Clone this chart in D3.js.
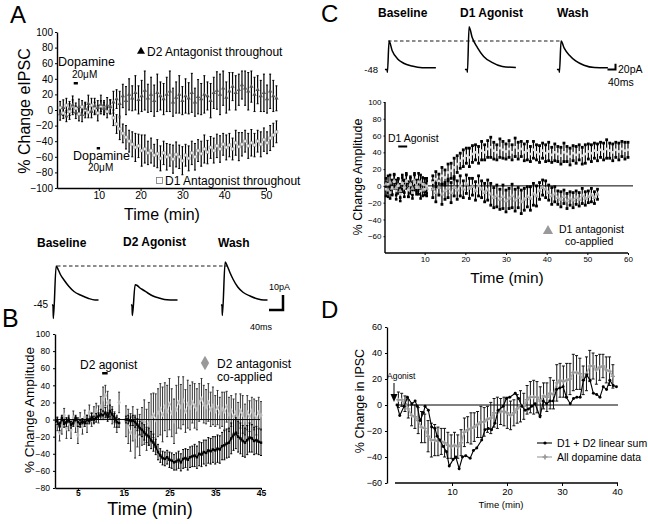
<!DOCTYPE html>
<html><head><meta charset="utf-8">
<script src="https://cdn.jsdelivr.net/npm/d3@7"></script>
<style>
body{margin:0;background:#fff;}
svg{display:block;}
</style></head><body>
<svg id="fig" width="648" height="524"></svg>
<script>
// ================= DATA =================
// Panel A  (% change eIPSC, sampled every 0.75 min)
const aD2Antag = [-5,3,-8,2,6,-3,4,-6,2,8,-2,5,3,7,2,6,4,
  10,14,8,18,12,20,15,22,13,18,
  25,15,20,12,22,18,14,20,24,10,16,20,12,18,15,22,10,17,14,20,18,12,22,25,20,28,16,24,30,22,26,32,28,24,30,20,26,18,22,14,24,18,15];
const aD2AntagErr = [8,10,7,9,12,8,10,9,7,11,8,10,9,12,8,10,9,
  14,12,16,15,18,20,16,22,18,20,
  25,18,22,20,24,18,20,22,26,18,20,24,18,22,20,25,18,22,20,24,18,22,20,24,26,22,20,24,18,22,20,18,22,24,20,22,18,20,24,18,22,20,16];
const aD1Antag = [3,-4,6,-2,5,2,-5,4,0,-3,6,2,-4,5,3,-2,4,
  -10,-18,-24,-30,-35,-40,-44,-48,-46,-52,
  -50,-55,-52,-58,-56,-62,-55,-60,-58,-63,-57,-60,-65,-58,-62,-55,-60,-52,-56,-50,-54,-48,-52,-46,-50,-44,-48,-45,-50,-42,-47,-44,-40,-46,-42,-45,-40,-44,-38,-42,-36,-32,-28];
const aD1AntagErr = [8,7,9,10,8,7,9,8,10,7,9,8,10,7,9,8,9,
  10,12,14,12,15,14,16,18,15,20,
  18,15,16,14,18,16,15,17,14,18,16,15,18,14,16,15,17,14,16,18,15,14,16,15,17,14,16,15,14,16,18,15,14,16,17,15,14,16,15,14,16,15,14];
const aYTicks = [-100,-80,-60,-40,-20,0,20,40,60,80,100];
const aXTicks = [10,20,30,40,50];

// Panel B (% change amplitude, every 0.5 min; gap 14-15.5 min)
const bAgonist1 = [-2,-8,2,-5,-3,0,-6,-4,2,-3,-5,-2,-4,0,-2,3,0,2,4,6,5,8,3,10,6,2,-3,-4];
const bAgonist1Err = [4,5,3,4,5,3,4,4,3,5,4,3,4,5,3,4,4,5,4,6,5,6,5,7,6,5,6,5];
const bAntag1 = [-5,-15,-8,5,-10,-4,-12,2,-6,-18,0,-8,3,-5,8,0,5,10,6,15,24,28,20,12,5,0,-5,20];
const bAntag1Err = [8,10,9,8,12,9,10,8,9,10,8,9,8,10,9,8,10,9,10,12,14,12,13,11,10,9,10,12];
const bAgonist2 = [0,0,-2,-1,-3,-6,-10,-12,-15,-18,-20,-24,-27,-32,-38,-42,-45,-46,-44,-47,
  -48,-50,-49,-47,-50,-46,-45,-47,-44,-43,-42,-44,-40,-41,-38,-39,-36,-37,-35,-36,
  -34,-35,-31,-30,-28,-27,-22,-18,-16,-20,-22,-25,-27,-24,-21,-22,-25,-24,-26,-27];
const bAgonist2Err = [4,5,5,6,6,7,8,8,9,9,10,10,10,9,9,8,8,8,8,9,
  9,9,10,10,10,11,11,12,12,12,13,13,14,14,14,15,15,15,15,16,
  16,16,16,17,17,17,18,18,18,18,18,18,17,17,17,16,16,16,15,15];
const bAntag2 = [-2,-8,-15,-5,-20,-10,-18,-8,-3,-12,-5,2,5,0,8,12,6,15,10,18,
  8,-2,12,20,15,22,10,18,14,20,16,12,20,24,18,15,20,12,16,10,
  14,8,12,10,15,6,10,4,8,2,10,6,0,8,4,10,6,2,8,5];
const bAntag2Err = [18,20,22,20,25,22,24,22,26,24,25,28,26,30,28,30,32,28,30,30,
  28,26,28,30,26,28,25,28,26,24,26,24,22,24,22,20,22,20,22,18,
  20,18,20,22,18,20,18,20,22,18,20,22,18,20,18,16,18,20,18,16];
const bYTicks = [-80,-60,-40,-20,0,20,40,60,80,100];
const bXTicks = [5,15,25,35,45];

// Panel C (baseline every 0.5 min, then every 0.75 min from 12 min)
const cAgonist1 = [-4,2,-8,-2,5,-6,0,-10,3,-3,6,-5,1,-8,4,-2,5,-6,2,-4,0];
const cAgonist1Err = [8,10,7,9,8,10,9,8,7,10,9,8,10,7,9,8,10,9,8,7,9];
const cAntag1 = [2,-5,4,-3,6,-2,1,-6,3,-1,5,-4,2,-3,6,0,-2,4,-5,1,-3];
const cAntag1Err = [7,8,9,7,8,9,7,8,10,7,8,9,7,8,9,7,8,9,7,8,9];
const cAgonist2 = [4,8,6,12,10,16,18,22,26,30,33,36,34,38,40,37,42,40,44,46,
  42,40,45,43,41,44,40,46,42,44,40,42,38,43,40,38,42,39,41,37,
  40,38,36,40,38,35,39,37,40,36,38,41,39,42,40,43,41,44,42,40,43,41,44,42,43];
const cAgonist2Err = [8,9,8,10,9,10,9,11,10,9,10,9,11,10,9,10,11,9,10,12,
  10,9,11,10,9,10,9,11,10,9,10,11,9,10,9,10,9,10,11,9,
  10,9,10,11,9,10,9,10,9,10,11,9,10,9,10,9,10,11,9,10,9,10,9,10,9];
const cAntag2 = [-4,-8,-2,-10,-6,-3,-8,-2,-5,0,-4,2,-3,-1,-6,0,-4,-8,-5,-10,
  -14,-12,-16,-13,-18,-15,-12,-17,-14,-19,-16,-13,-15,-10,-12,-6,-2,-4,-8,-12,
  -10,-14,-16,-13,-18,-15,-17,-14,-16,-12,-15,-13,-11,-14,-10];
const cAntag2Err = [10,11,9,12,10,11,12,10,11,12,10,11,12,10,11,12,10,11,12,13,
  12,13,12,14,13,12,14,13,12,14,13,12,14,13,12,10,9,10,9,10,
  9,8,9,8,9,8,9,8,8,9,8,7,8,7,6];
const cYTicks = [-60,-40,-20,0,20,40,60,80,100];
const cXTicks = [10,20,30,40,50,60];

// Panel D
const dSumTimes = [0,0.5,1.3,1.9,2.7,3.3,3.7,4.2,4.8,5.1,5.7,6.3,6.9,7.3,7.8,8.4,9,9.5,10.2,10.7,
  11.3,11.9,12.5,13.3,13.9,14.5,15.4,16,16.6,17.2,17.8,18.4,19.3,19.9,20.5,21.5,22.1,22.7,23.3,23.9,
  24.5,25.1,26,26.6,27.2,27.8,28.4,29,29.6,30.2,30.8,31.5,32.1,32.7,33.3,33.9,34.5,35.1,35.7,36.3,
  36.9,37.5,38.1,38.7,39.3,39.9];
const dSum = [0,-8,-1,6,1,3,-1,-12,-6,-1,-4,-17,-18,-24,-27,-32,-36,-47,-42,-40,
  -49,-40,-39,-41,-35,-33,-27,-19,-18,-19,-14,-4,-1,5,6,9,5,-1,-4,-3,
  -1,1,-9,3,1,3,3,12,13,14,6,1,5,6,6,19,23,19,9,8,6,14,12,19,15,14];
const dAll = [4,4,1,-3,-8,-9,-12,-17,-18,-24,-27,-27,-28,-28,-29,-31,-32,-31,-32,-29,
  -21,-19,-18,-17,-15,-13,-13,-11,-10,-6,-6,-5,-5,-6,-8,-6,-3,-1,-1,4,
  6,6,6,3,7,6,9,8,17,19,18,19,20,25,25,24,19,24,30,30,27,29,30,27,26,22];
const dAllErr = [6,5,6,7,8,9,10,12,11,12,13,12,11,10,11,10,9,10,9,10,
  11,10,12,11,10,12,11,10,12,11,12,10,11,12,11,10,11,12,10,11,
  12,13,12,11,10,11,12,11,14,13,12,13,12,14,13,12,11,13,12,10,11,10,9,10,11,9];
const dYTicks = [-60,-40,-20,0,20,40,60];
const dXTicks = [10,20,30,40];

// Example traces (time in ms, amplitude in pA relative to holding level)
const traceTimesB = [-3,0,1,9,15,22,32,45,60,80,100,120,130];
const traceBBaseline = [0,0,-9,26,23.5,20,16.5,12.5,9,6.5,4.5,3.3,3.3];
const traceBAgonist  = [0,0,-7,13.5,13,11.5,10,8,6,4.5,3.5,3.3,3.3];
const traceBWash     = [0,0,-7,28.7,26,22,17,12,8.5,6,4.2,3.3,3.3];
const traceTimesC = [-10,0,2,10,25,50,80,120,170,235];
const traceCBaseline = [0,0,-10,100,66,38,22,12,6,6];
const traceCAgonist  = [0,0,-10,150,112,77,46,25,10.5,7];
const traceCWash     = [0,0,-10,100,75,50,30,15,7,6];

// ================= DRAWING =================
const FONT = '"Liberation Sans", Arial, Helvetica, sans-serif';
const svg = d3.select("#fig").attr("font-family", FONT);

function txt(x, y, s, size, o = {}) {
  const t = svg.append("text").attr("x", x).attr("y", y).text(s)
    .attr("font-size", size).attr("fill", o.fill || "#000");
  if (o.bold) t.attr("font-weight", "bold");
  if (o.anchor) t.attr("text-anchor", o.anchor);
  if (o.rotate) t.attr("transform", `rotate(-90,${x},${y})`).attr("dy", "0.35em");
  return t;
}
function styleAxis(g, size, bold) {
  g.attr("font-family", FONT);
  g.selectAll("text").attr("font-size", size).attr("fill", "#000");
  if (bold) g.selectAll("text").attr("font-weight", "bold");
  g.selectAll("path,line").attr("stroke", "#000");
}
function errorBars(ts, vs, es, x, y, o) {
  const g = svg.append("g");
  const idx = d3.range(ts.length);
  g.selectAll("line.v").data(idx).join("line")
    .attr("x1", i => x(ts[i])).attr("x2", i => x(ts[i]))
    .attr("y1", i => y(vs[i] + es[i])).attr("y2", i => y(vs[i] - es[i]))
    .attr("stroke", o.color).attr("stroke-width", o.w);
  if (o.cap) {
    [1, -1].forEach(s => {
      g.selectAll(null).data(idx).join("line")
        .attr("x1", i => x(ts[i]) - o.cap / 2).attr("x2", i => x(ts[i]) + o.cap / 2)
        .attr("y1", i => y(vs[i] + s * es[i])).attr("y2", i => y(vs[i] + s * es[i]))
        .attr("stroke", o.color).attr("stroke-width", o.capW || 1);
    });
  }
  if (o.box) {
    [1, -1].forEach(s => {
      g.selectAll(null).data(idx).join("rect")
        .attr("x", i => x(ts[i]) - o.box / 2).attr("y", i => y(vs[i] + s * es[i]) - o.box / 2)
        .attr("width", o.box).attr("height", o.box).attr("fill", o.color);
    });
  }
  return g;
}
function markers(ts, vs, x, y, type, size, fill, stroke, sw) {
  svg.append("g").selectAll("path").data(d3.range(ts.length)).join("path")
    .attr("transform", i => `translate(${x(ts[i])},${y(vs[i])})`)
    .attr("d", d3.symbol().type(type).size(size))
    .attr("fill", fill).attr("stroke", stroke || "none").attr("stroke-width", sw || 0);
}
function lineSeries(ts, vs, x, y, color, w) {
  const ln = d3.line().x(i => x(ts[i])).y(i => y(vs[i]));
  svg.append("path").attr("d", ln(d3.range(ts.length)))
    .attr("fill", "none").attr("stroke", color).attr("stroke-width", w);
}
function trace(x0, y0, times, amps, pxMs, pxPA) {
  const tx = d3.scaleLinear().domain([0, 1]).range([x0, x0 + pxMs]);
  const ty = d3.scaleLinear().domain([0, 1]).range([y0, y0 - pxPA]);
  const ln = d3.line().x(i => tx(times[i])).y(i => ty(amps[i])).curve(d3.curveMonotoneX);
  svg.append("path").attr("d", ln(d3.range(times.length)))
    .attr("fill", "none").attr("stroke", "#000").attr("stroke-width", 1.5);
}

// ---------------- Panel A ----------------
{
  const x = d3.scaleLinear().domain([0, 50]).range([57, 266]);
  const y = d3.scaleLinear().domain([-100, 100]).range([188, 32]);
  const gy = svg.append("g").attr("transform", "translate(57,0)")
    .call(d3.axisLeft(y).tickValues(aYTicks).tickSize(2).tickSizeOuter(0).tickPadding(2));
  styleAxis(gy, 10);
  gy.select(".domain").attr("stroke-width", 1.4);
  const gx = svg.append("g").attr("transform", "translate(0,188)")
    .call(d3.axisBottom(x).tickValues(aXTicks).tickSize(3).tickSizeOuter(0).tickPadding(1));
  styleAxis(gx, 10.5);
  gx.select(".domain").attr("stroke-width", 1.4);
  const aTimes = aD2Antag.map((_, i) => 0.75 * (i + 1));
  errorBars(aTimes, aD1Antag, aD1AntagErr, x, y, {color: "#000", w: 1.2, cap: 2});
  errorBars(aTimes, aD2Antag, aD2AntagErr, x, y, {color: "#000", w: 1.2, cap: 2});
  markers(aTimes, aD1Antag, x, y, d3.symbolSquare, 8, "#eee", "#888", 0.6);
  markers(aTimes, aD2Antag, x, y, d3.symbolTriangle, 8, "#555");

  txt(10, 23, "A", 24);
  txt(24, 111, "% Change eIPSC", 16, {anchor: "middle", rotate: true});
  txt(162, 220, "Time (min)", 16, {anchor: "middle"});
  txt(58, 66, "Dopamine", 12.5);
  txt(72, 78, "20\u03bcM", 10);
  svg.append("rect").attr("x", x(4)).attr("y", 82).attr("width", x(5) - x(4)).attr("height", 2.5).attr("fill", "#000");
  svg.append("rect").attr("x", x(9.5)).attr("y", 147).attr("width", x(10.3) - x(9.5)).attr("height", 2.5).attr("fill", "#000");
  txt(73, 160, "Dopamine", 12.5);
  txt(88, 171, "20\u03bcM", 10);
  svg.append("path").attr("transform", "translate(141,51.5)").attr("d", d3.symbol().type(d3.symbolTriangle).size(28)).attr("fill", "#000");
  txt(147, 56, "D2 Antagonist throughout", 12);
  svg.append("rect").attr("x", 156.5).attr("y", 177.5).attr("width", 6).attr("height", 6).attr("fill", "#fff").attr("stroke", "#777").attr("stroke-width", 0.8);
  txt(165, 185, "D1 Antagonist throughout", 12);
}

// ---------------- Panel B ----------------
{
  txt(37, 247, "Baseline", 12, {bold: true});
  txt(123, 246, "D2 Agonist", 12, {bold: true});
  txt(218, 247, "Wash", 12, {bold: true});
  trace(53, 305, traceTimesB, traceBBaseline, 0.35, 1.5);
  trace(132, 305, traceTimesB, traceBAgonist, 0.35, 1.5);
  trace(222, 305, traceTimesB, traceBWash, 0.35, 1.5);
  svg.append("line").attr("x1", 57).attr("x2", 227).attr("y1", 266).attr("y2", 266)
    .attr("stroke", "#000").attr("stroke-width", 0.9).attr("stroke-dasharray", "3.5,2.5");
  txt(48, 308, "-45", 10, {anchor: "end"});
  svg.append("path").attr("d", "M269,310H283V295").attr("fill", "none").attr("stroke", "#000").attr("stroke-width", 2.5);
  txt(269, 290, "10pA", 9);
  txt(250, 330, "40ms", 9);
  txt(2, 327, "B", 25);

  const x = d3.scaleLinear().domain([0, 45]).range([55, 261]);
  const y = d3.scaleLinear().domain([-80, 100]).range([488, 334]);
  const gy = svg.append("g").attr("transform", "translate(55,0)")
    .call(d3.axisLeft(y).tickValues(bYTicks).tickSize(2).tickSizeOuter(0).tickPadding(3));
  styleAxis(gy, 8.5);
  gy.select(".domain").attr("stroke-width", 1.4);
  const gx = svg.append("g").attr("transform", "translate(0,488)")
    .call(d3.axisBottom(x).tickValues(bXTicks).tickSize(2).tickSizeOuter(0).tickPadding(0));
  styleAxis(gx, 8.5, true);
  gx.select(".domain").attr("stroke-width", 1.4);

  const t1 = bAgonist1.map((_, i) => 0.5 * (i + 1));
  const t2 = bAgonist2.map((_, i) => 15.5 + 0.5 * i);
  errorBars(t1, bAntag1, bAntag1Err, x, y, {color: "#333", w: 1, cap: 2});
  errorBars(t2, bAntag2, bAntag2Err, x, y, {color: "#333", w: 1, cap: 2});
  markers(t1, bAntag1, x, y, d3.symbolDiamond, 10, "#bbb");
  markers(t2, bAntag2, x, y, d3.symbolDiamond, 10, "#bbb");
  svg.append("line").attr("x1", x(0)).attr("x2", x(44.8)).attr("y1", y(0)).attr("y2", y(0)).attr("stroke", "#000").attr("stroke-width", 1);
  errorBars(t1, bAgonist1, bAgonist1Err, x, y, {color: "#000", w: 1, cap: 2});
  errorBars(t2, bAgonist2, bAgonist2Err, x, y, {color: "#000", w: 1, cap: 2});
  lineSeries(t1, bAgonist1, x, y, "#000", 1.4);
  lineSeries(t2, bAgonist2, x, y, "#000", 1.4);
  markers(t1, bAgonist1, x, y, d3.symbolSquare, 6, "#000");
  markers(t2, bAgonist2, x, y, d3.symbolSquare, 6, "#000");

  txt(80, 369, "D2 agonist", 12);
  svg.append("rect").attr("x", x(10.3)).attr("y", 372).attr("width", x(11.5) - x(10.3)).attr("height", 2.5).attr("fill", "#000");
  svg.append("path").attr("transform", "translate(205,363)").attr("d", d3.symbol().type(d3.symbolDiamond).size(60)).attr("fill", "#999");
  txt(217, 368, "D2 antagonist", 12);
  txt(217, 381, "co-applied", 12);
  txt(29, 410, "% Change Amplitude", 13.5, {anchor: "middle", rotate: true});
  txt(150, 515, "Time (min)", 18, {anchor: "middle"});
}

// ---------------- Panel C ----------------
{
  txt(321, 22, "C", 24);
  txt(378, 17, "Baseline", 12, {bold: true});
  txt(460, 17, "D1 Agonist", 12, {bold: true});
  txt(557, 17, "Wash", 12, {bold: true});
  trace(387, 69.5, traceTimesC, traceCBaseline, 0.208, 0.285);
  trace(467, 69.5, traceTimesC, traceCAgonist, 0.208, 0.285);
  trace(559, 69.5, traceTimesC, traceCWash, 0.208, 0.285);
  svg.append("line").attr("x1", 388).attr("x2", 562).attr("y1", 41).attr("y2", 41)
    .attr("stroke", "#000").attr("stroke-width", 0.9).attr("stroke-dasharray", "3.5,2.5");
  txt(378, 73, "-48", 9.5, {anchor: "end"});
  svg.append("path").attr("d", "M607.5,69.5H615.5V63.8").attr("fill", "none").attr("stroke", "#000").attr("stroke-width", 2);
  txt(618, 73, "20pA", 10.5);
  txt(608, 86, "40ms", 10.5);

  const x = d3.scaleLinear().domain([0, 60]).range([384, 628]);
  const y = d3.scaleLinear().domain([-80, 100]).range([253, 102]);
  const gy = svg.append("g").attr("transform", "translate(385,0)")
    .call(d3.axisLeft(y).tickValues(cYTicks).tickSize(1.5).tickSizeOuter(0).tickPadding(2));
  styleAxis(gy, 8);
  gy.select(".domain").attr("d", `M0,${y(100)}V${y(-80)}`).attr("stroke-width", 1.4);
  const gx = svg.append("g").attr("transform", "translate(0,253)")
    .call(d3.axisBottom(x).tickValues(cXTicks).tickSize(2).tickSizeOuter(0).tickPadding(1));
  styleAxis(gx, 8);
  gx.select(".domain").attr("d", "M385,0H628").attr("stroke-width", 1.4);

  const t1 = cAgonist1.map((_, i) => 0.5 * (i + 1));
  const tUp = cAgonist2.map((_, i) => 12 + 0.75 * i);
  const tLow = cAntag2.map((_, i) => 12 + 0.75 * i);
  svg.append("line").attr("x1", 385).attr("x2", 633).attr("y1", y(0)).attr("y2", y(0)).attr("stroke", "#000").attr("stroke-width", 1);
  errorBars(t1, cAntag1, cAntag1Err, x, y, {color: "#000", w: 1.2, box: 2.6});
  errorBars(t1, cAgonist1, cAgonist1Err, x, y, {color: "#000", w: 1.2, box: 2.6});
  errorBars(tLow, cAntag2, cAntag2Err, x, y, {color: "#000", w: 1.2, box: 2.8});
  errorBars(tUp, cAgonist2, cAgonist2Err, x, y, {color: "#000", w: 1.2, box: 2.8});
  markers(t1, cAntag1, x, y, d3.symbolTriangle, 9, "#aaa");
  markers(t1, cAgonist1, x, y, d3.symbolSquare, 7, "#ccc");
  markers(tLow, cAntag2, x, y, d3.symbolTriangle, 9, "#aaa");
  markers(tUp, cAgonist2, x, y, d3.symbolSquare, 7, "#ddd");

  txt(388, 142, "D1 Agonist", 10.5);
  svg.append("rect").attr("x", x(3.5)).attr("y", 145.5).attr("width", x(5.7) - x(3.5)).attr("height", 2).attr("fill", "#000");
  svg.append("path").attr("transform", "translate(548,231)").attr("d", d3.symbol().type(d3.symbolTriangle).size(45)).attr("fill", "#999");
  txt(559, 233, "D1 antagonist", 10.5);
  txt(565, 245, "co-applied", 10.5);
  txt(358, 177, "% Change Amplitude", 12.5, {anchor: "middle", rotate: true});
  txt(507, 283, "Time (min)", 15.5, {anchor: "middle"});
}

// ---------------- Panel D ----------------
{
  txt(321, 318, "D", 24);
  const x = d3.scaleLinear().domain([0, 40]).range([397, 617]);
  const y = d3.scaleLinear().domain([-60, 60]).range([483, 327]);
  const gy = svg.append("g").attr("transform", "translate(387,0)")
    .call(d3.axisLeft(y).tickValues(dYTicks).tickSize(2).tickSizeOuter(0).tickPadding(3));
  styleAxis(gy, 9);
  gy.select(".domain").attr("stroke-width", 1.3);
  const gx = svg.append("g").attr("transform", "translate(0,483)")
    .call(d3.axisBottom(x).tickValues(dXTicks).tickSize(3).tickSizeOuter(0).tickPadding(2));
  styleAxis(gx, 9.5);
  gx.select(".domain").attr("d", "M395,0H618").attr("stroke-width", 1.5);
  svg.append("line").attr("x1", x(0)).attr("x2", 618).attr("y1", y(0)).attr("y2", y(0)).attr("stroke", "#000").attr("stroke-width", 1);

  const tAll = dAll.map((_, i) => 0.25 + 0.6 * i);
  errorBars(tAll, dAll, dAllErr, x, y, {color: "#111", w: 1, cap: 3});
  lineSeries(tAll, dAll, x, y, "#aaa", 1.6);
  markers(tAll, dAll, x, y, d3.symbolCross, 10, "#999");
  lineSeries(dSumTimes, dSum, x, y, "#000", 1.1);
  markers(dSumTimes, dSum, x, y, d3.symbolCircle, 7, "#000");

  txt(387, 379, "Agonist", 8.5);
  svg.append("line").attr("x1", 394).attr("x2", 394).attr("y1", 383).attr("y2", 396).attr("stroke", "#000").attr("stroke-width", 1);
  svg.append("path").attr("d", "M390.5,394L397.5,394L394,402Z").attr("fill", "#000");

  svg.append("line").attr("x1", 537).attr("x2", 552).attr("y1", 443).attr("y2", 443).attr("stroke", "#000").attr("stroke-width", 1.1);
  svg.append("circle").attr("cx", 545).attr("cy", 443).attr("r", 1.6).attr("fill", "#000");
  txt(557, 447, "D1 + D2 linear sum", 10.5);
  svg.append("line").attr("x1", 537).attr("x2", 552).attr("y1", 457).attr("y2", 457).attr("stroke", "#aaa").attr("stroke-width", 1.3);
  svg.append("path").attr("transform", "translate(545,457)").attr("d", d3.symbol().type(d3.symbolCross).size(14)).attr("fill", "#999");
  txt(557, 461, "All dopamine data", 10.5);
  txt(360, 401, "% Change in IPSC", 12.5, {anchor: "middle", rotate: true});
  txt(501, 508, "Time (min)", 9.5, {anchor: "middle"});
}
</script>
</body></html>
